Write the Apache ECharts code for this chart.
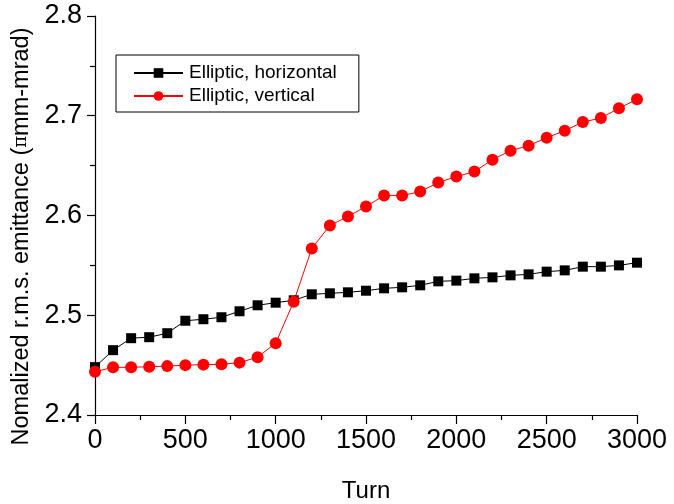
<!DOCTYPE html>
<html>
<head>
<meta charset="utf-8">
<script src="https://cdn.jsdelivr.net/npm/echarts@6/dist/echarts.min.js"></script>
<style>
  html, body { margin: 0; padding: 0; background: #fff; }
  #chart { width: 674px; height: 504px; }
</style>
</head>
<body>
<div id="chart"></div>
<script>
// turns, one point every 100
const turns = [0, 100, 200, 300, 400, 500, 600, 700, 800, 900, 1000,
  1100, 1200, 1300, 1400, 1500, 1600, 1700, 1800, 1900, 2000,
  2100, 2200, 2300, 2400, 2500, 2600, 2700, 2800, 2900, 3000]

const horizontal = [2.448, 2.465, 2.477, 2.478, 2.482, 2.4945, 2.496, 2.498, 2.504, 2.510, 2.5126,
  2.515, 2.521, 2.522, 2.523, 2.5246, 2.527, 2.528, 2.530, 2.534, 2.5347,
  2.537, 2.538, 2.540, 2.541, 2.5437, 2.545, 2.5487, 2.5487, 2.550, 2.5527]

const vertical = [2.4434, 2.4478, 2.4478, 2.4484, 2.449, 2.450, 2.4505, 2.4508, 2.4525, 2.458, 2.472,
  2.5136, 2.567, 2.590, 2.599, 2.609, 2.620, 2.620, 2.624, 2.633, 2.639,
  2.644, 2.656, 2.665, 2.670, 2.678, 2.685, 2.6937, 2.6977, 2.7075, 2.7165]

const seriesNames = ['Elliptic, horizontal', 'Elliptic, vertical']

const font = 'Liberation Sans, Arial, sans-serif'

function pairs(ys) {
  return turns.map((t, i) => [t, ys[i]])
}

const chart = echarts.init(document.getElementById('chart'))

const option = {
  animation: false,
  backgroundColor: '#fff',
  grid: {
    left: 95,
    right: 37,
    top: 16,
    bottom: 89,
    outerBoundsMode: 'none'
  },
  legend: {
    orient: 'vertical',
    left: 116,
    top: 55,
    padding: [8, 22, 6, 17],
    itemWidth: 49,
    itemHeight: 12,
    itemGap: 3,
    borderColor: '#000',
    borderWidth: 1,
    data: seriesNames,
    textStyle: {
      fontFamily: font,
      fontSize: 19,
      color: '#000',
      lineHeight: 20,
      padding: [0, 0, 0, 1]
    }
  },
  xAxis: {
    type: 'value',
    min: 0,
    max: 3000,
    interval: 500,
    name: 'Turn',
    nameLocation: 'middle',
    nameGap: 64,
    nameTextStyle: { fontFamily: font, fontSize: 24, color: '#000' },
    axisLine: { show: true, onZero: false, lineStyle: { color: '#000', width: 1.2 } },
    axisTick: { show: true, inside: false, length: 9, lineStyle: { color: '#000', width: 1.2 } },
    minorTick: { show: true, splitNumber: 2, length: 5, lineStyle: { color: '#000', width: 1.2 } },
    splitLine: { show: false },
    axisLabel: {
      fontFamily: font, fontSize: 27, color: '#000', margin: 12,
      formatter: v => String(v)
    }
  },
  yAxis: {
    type: 'value',
    min: 2.4,
    max: 2.8,
    interval: 0.1,
    name: 'Nomalized r.m.s. emittance ({pi|π}mm-mrad)',
    nameLocation: 'middle',
    nameGap: 61,
    nameRotate: 90,
    nameTextStyle: {
      fontFamily: font, fontSize: 23.5, color: '#000', padding: [0, 42, 0, 0],
      rich: { pi: { fontFamily: 'DejaVu Serif, serif', fontSize: 18, color: '#000' } }
    },
    axisLine: { show: true, onZero: false, lineStyle: { color: '#000', width: 1.2 } },
    axisTick: { show: true, inside: false, length: 8, lineStyle: { color: '#000', width: 1.2 } },
    minorTick: { show: true, splitNumber: 2, length: 5, lineStyle: { color: '#000', width: 1.2 } },
    splitLine: { show: false },
    axisLabel: {
      fontFamily: font, fontSize: 27, color: '#000', margin: 13,
      formatter: v => v.toFixed(1)
    }
  },
  series: [
    {
      name: seriesNames[0],
      type: 'line',
      data: pairs(horizontal),
      symbol: 'rect',
      symbolSize: 10,
      showAllSymbol: true,
      lineStyle: { color: '#000', width: 1 },
      itemStyle: { color: '#000' }
    },
    {
      name: seriesNames[1],
      type: 'line',
      data: pairs(vertical),
      symbol: 'circle',
      symbolSize: 12,
      showAllSymbol: true,
      lineStyle: { color: '#ff0000', width: 1 },
      itemStyle: { color: '#ff0000' }
    }
  ]
}

chart.setOption(option)
</script>
</body>
</html>
